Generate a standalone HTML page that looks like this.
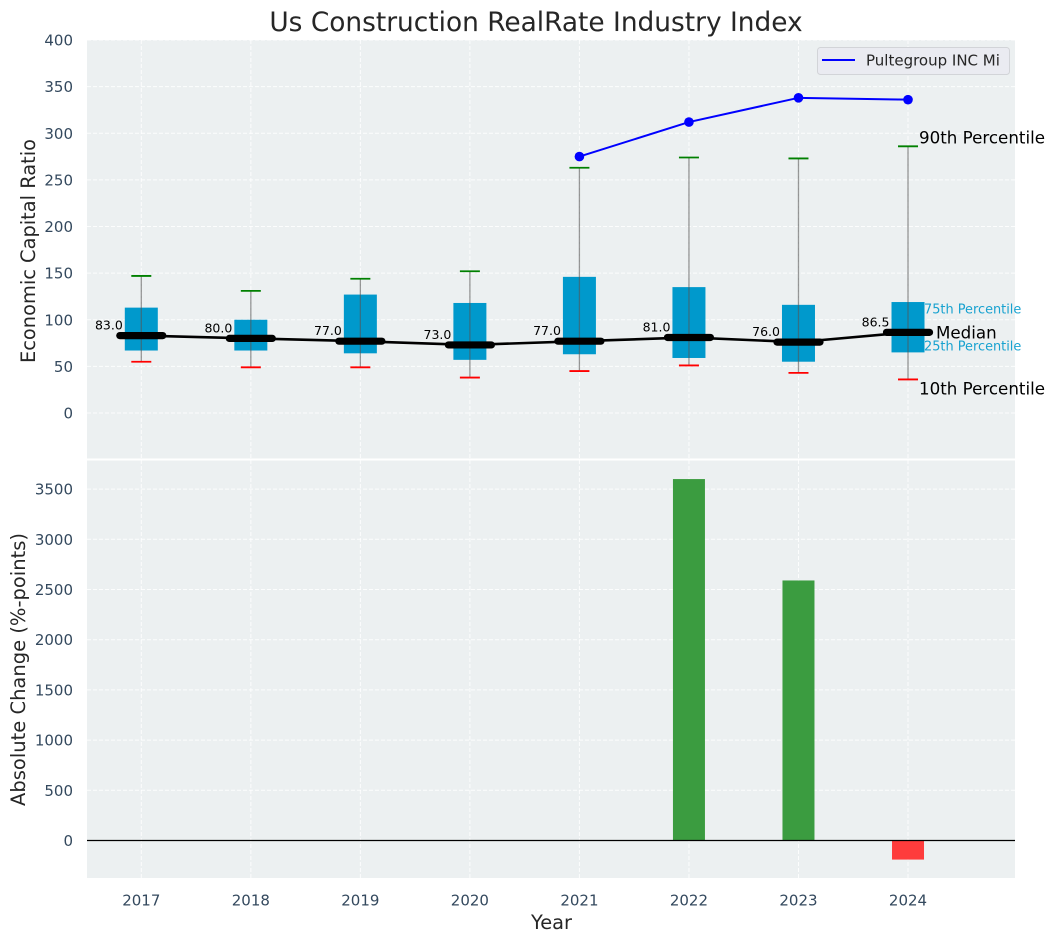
<!DOCTYPE html>
<html>
<head>
<meta charset="utf-8">
<title>Us Construction RealRate Industry Index</title>
<style>
html,body{margin:0;padding:0;background:#fff;width:1054px;height:942px;overflow:hidden}
svg{display:block}
text{font-family:"DejaVu Sans","Liberation Sans",sans-serif}
</style>
</head>
<body>
<svg id="chart" xmlns="http://www.w3.org/2000/svg" width="1054" height="942" viewBox="0 0 1054 942">
  <rect x="87" y="40" width="928" height="419" fill="#ecf0f1"/>
  <rect x="87" y="460" width="928" height="418" fill="#ecf0f1"/>
  <g id="grid"></g>
  <rect x="87" y="458.5" width="928" height="2" fill="#ffffff"/>
  <g id="marks-bottom"></g>
  <g id="marks-top"></g>
  <g id="axes"></g>
  <text x="536" y="31" font-size="26.4" fill="#262626" text-anchor="middle">Us Construction RealRate Industry Index</text>
  <text transform="translate(35,251) rotate(-90)" font-size="19.4" fill="#262626" text-anchor="middle">Economic Capital Ratio</text>
  <text transform="translate(25,669.5) rotate(-90)" font-size="19.5" fill="#262626" text-anchor="middle">Absolute Change (%-points)</text>
  <text x="551.5" y="929" font-size="19.4" fill="#262626" text-anchor="middle">Year</text>
  <g>
    <rect x="817.5" y="47.5" width="192" height="27" rx="3" fill="#eaebf1" stroke="#d2d4d8"/>
    <line x1="822" x2="855" y1="60" y2="60" stroke="#0000ff" stroke-width="2"/>
    <text x="866" y="65.5" font-size="15" fill="#262626">Pultegroup INC Mi</text>
  </g>
</svg>
<script>
const years = [2017, 2018, 2019, 2020, 2021, 2022, 2023, 2024];
const p90 = [147, 131, 144, 152, 263, 274, 273, 286];
const q3 = [113, 100, 127, 118, 146, 135, 116, 119];
const medians = [83, 80, 77, 73, 77, 81, 76, 86.5];
const q1 = [67, 67, 64, 57, 63, 59, 55, 65];
const p10 = [55, 49, 49, 38, 45, 51, 43, 36];
const companyYears = [2021, 2022, 2023, 2024];
const companyValues = [275, 312, 338, 336];
const changeYears = [2022, 2023, 2024];
const changeValues = [3600, 2590, -190];
const topTicks = [0, 50, 100, 150, 200, 250, 300, 350, 400];
const bottomTicks = [0, 500, 1000, 1500, 2000, 2500, 3000, 3500];

const NS = 'http://www.w3.org/2000/svg';
const xScale = function (v) { return 141.3 + (v - 2017) * 109.53; };
const yTop = function (v) { return 413 - v * 0.9325; };
const yBottom = function (v) { return 840.5 - v * 0.1004; };
const PANEL_L = 87, PANEL_R = 1015;

function make(tag, attrs, parent, text) {
  const el = document.createElementNS(NS, tag);
  Object.keys(attrs).forEach(function (k) { el.setAttribute(k, attrs[k]); });
  if (text !== undefined) el.textContent = text;
  parent.appendChild(el);
  return el;
}

const grid = document.getElementById('grid');
const axes = document.getElementById('axes');
const marksTop = document.getElementById('marks-top');
const marksBottom = document.getElementById('marks-bottom');
const GRID = { stroke: '#ffffff', 'stroke-width': 1, 'stroke-dasharray': '4 2', 'stroke-opacity': 0.85 };

topTicks.forEach(function (t) {
  const y = yTop(t);
  const g = make('line', Object.assign({ x1: PANEL_L, x2: PANEL_R, y1: y, y2: y }, GRID), grid);
  
  
  const l = make('text', { x: 73, y: y + 5.5, 'font-size': 15, fill: '#34495e', 'text-anchor': 'end' }, axes, String(t));
  
  
});

bottomTicks.forEach(function (t) {
  const y = yBottom(t);
  const g = make('line', Object.assign({ x1: PANEL_L, x2: PANEL_R, y1: y, y2: y }, GRID), grid);
  
  
  const l = make('text', { x: 73, y: y + 5.5, 'font-size': 15, fill: '#34495e', 'text-anchor': 'end' }, axes, String(t));
  
  
});

years.forEach(function (yr) {
  const x = xScale(yr);
  const gt = make('line', Object.assign({ x1: x, x2: x, y1: 40, y2: 459 }, GRID), grid);
  
  
  const gb = make('line', Object.assign({ x1: x, x2: x, y1: 460, y2: 878 }, GRID), grid);
  
  
  const l = make('text', { x: x, y: 905.5, 'font-size': 15, fill: '#34495e', 'text-anchor': 'middle' }, axes, String(yr));
  
  
});

changeYears.forEach(function (yr, i) {
  const v = changeValues[i];
  const y0 = yBottom(0), y1 = yBottom(v);
  const b = make('rect', {
    x: xScale(yr) - 16, width: 32, y: Math.min(y0, y1), height: Math.abs(y1 - y0),
    fill: v >= 0 ? '#3b9c40' : '#fe3c3c'
  }, marksBottom);
  
  
});

const zero = make('line', { x1: PANEL_L, x2: PANEL_R, y1: yBottom(0), y2: yBottom(0), stroke: '#000000', 'stroke-width': 1.3 }, marksBottom);



years.forEach(function (yr, i) {
  const x = xScale(yr);
  const box = make('rect', { x: x - 16.5, width: 33, y: yTop(q3[i]), height: yTop(q1[i]) - yTop(q3[i]), fill: '#0099cc' }, marksTop);
  
  
  const w = make('line', { x1: x, x2: x, y1: yTop(p90[i]), y2: yTop(p10[i]), stroke: '#555555', 'stroke-opacity': 0.6, 'stroke-width': 1.3 }, marksTop);
  
  
  const hi = make('line', { x1: x - 10, x2: x + 10, y1: yTop(p90[i]), y2: yTop(p90[i]), stroke: '#008000', 'stroke-width': 1.8 }, marksTop);
  
  
  const lo = make('line', { x1: x - 10, x2: x + 10, y1: yTop(p10[i]), y2: yTop(p10[i]), stroke: '#ff0000', 'stroke-width': 1.8 }, marksTop);
  
  
});

const medianPath = make('polyline', {
  points: years.map(function (yr, i) { return xScale(yr) + ',' + yTop(medians[i]); }).join(' '),
  fill: 'none', stroke: '#000000', 'stroke-width': 2.6
}, marksTop);



years.forEach(function (yr, i) {
  const x = xScale(yr), y = yTop(medians[i]);
  const m = make('line', { x1: x - 21.5, x2: x + 21.5, y1: y, y2: y, stroke: '#000000', 'stroke-width': 7.2, 'stroke-linecap': 'round' }, marksTop);
  
  
  const l = make('text', { x: x - 18.5, y: y - 6, 'font-size': 12.5, fill: '#000000', 'text-anchor': 'end' }, marksTop, medians[i].toFixed(1));
  
  
});

const companyLine = make('polyline', {
  points: companyYears.map(function (yr, i) { return xScale(yr) + ',' + yTop(companyValues[i]); }).join(' '),
  fill: 'none', stroke: '#0000ff', 'stroke-width': 2
}, marksTop);



companyYears.forEach(function (yr, i) {
  const c = make('circle', { cx: xScale(yr), cy: yTop(companyValues[i]), r: 4.8, fill: '#0000ff' }, marksTop);
  
  
});

const last = years.length - 1;
const lastX = xScale(years[last]);
const a90 = make('text', { x: lastX + 11, y: yTop(p90[last]) - 3, 'font-size': 16.7, fill: '#000000' }, marksTop, '90th Percentile');


const a75 = make('text', { x: lastX + 16, y: yTop(q3[last]) + 11.5, 'font-size': 12.9, fill: '#0099cc', 'fill-opacity': 0.9 }, marksTop, '75th Percentile');


const aMed = make('text', { x: lastX + 28, y: yTop(medians[last]) + 6, 'font-size': 16.7, fill: '#000000' }, marksTop, 'Median');


const a25 = make('text', { x: lastX + 16, y: yTop(q1[last]) - 2, 'font-size': 12.9, fill: '#0099cc', 'fill-opacity': 0.9 }, marksTop, '25th Percentile');


const a10 = make('text', { x: lastX + 11, y: yTop(p10[last]) + 15, 'font-size': 16.7, fill: '#000000' }, marksTop, '10th Percentile');


</script>
</body>
</html>
